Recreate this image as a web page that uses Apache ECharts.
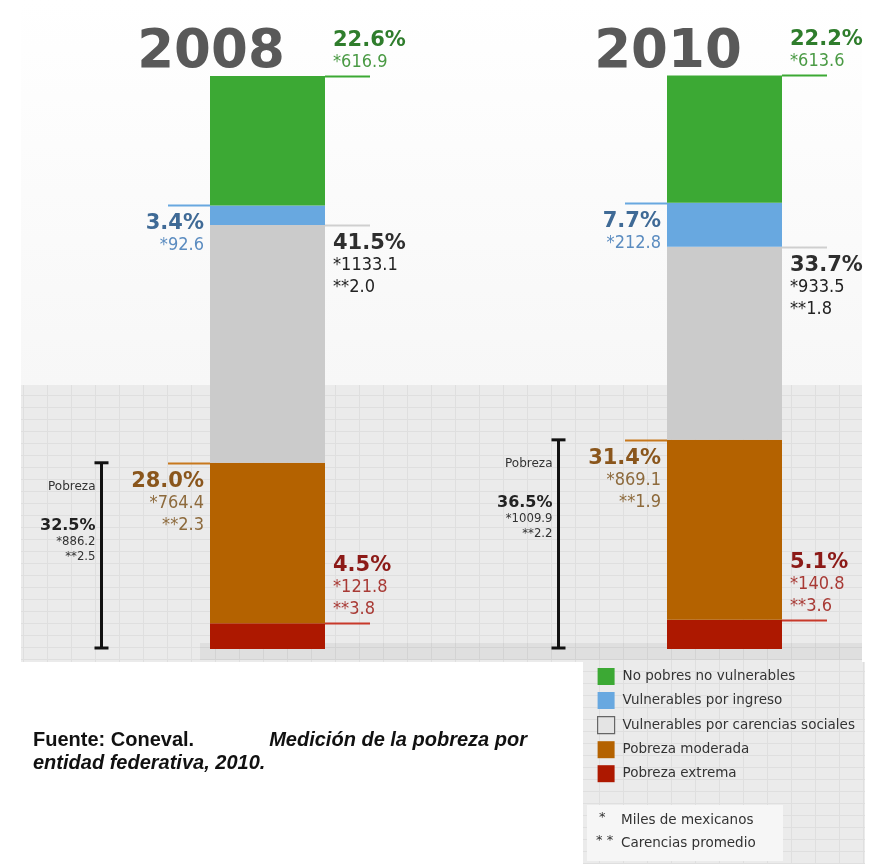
<!DOCTYPE html>
<html><head><meta charset="utf-8">
<script src="https://cdn.jsdelivr.net/npm/echarts@6/dist/echarts.min.js"></script>
<style>html,body{margin:0;padding:0;background:#fff}#c{width:875px;height:864px}</style>
</head><body><div id="c"></div>
<script>
// ---------- data ----------
const years = ['2008', '2010'];
const seriesNames = ['No pobres no vulnerables', 'Vulnerables por ingreso', 'Vulnerables por carencias sociales', 'Pobreza moderada', 'Pobreza extrema'];
const pctNoPobres = [22.6, 22.2];
const pctVulIngreso = [3.4, 7.7];
const pctVulCarencias = [41.5, 33.7];
const pctModerada = [28.0, 31.4];
const pctExtrema = [4.5, 5.1];
const milesNoPobres = [616.9, 613.6];
const milesVulIngreso = [92.6, 212.8];
const milesVulCarencias = [1133.1, 933.5];
const milesModerada = [764.4, 869.1];
const milesExtrema = [121.8, 140.8];
const carenciasVulCarencias = [2.0, 1.8];
const carenciasModerada = [2.3, 1.9];
const carenciasExtrema = [3.8, 3.6];
const pobrezaPct = [32.5, 36.5];
const pobrezaMiles = [886.2, 1009.9];
const pobrezaCarencias = [2.5, 2.2];
const sourceLine1a = 'Fuente: Coneval.';
const sourceLine1b = 'Medición de la pobreza por';
const sourceLine2 = 'entidad federativa, 2010.';

// ---------- styles ----------
const BAR_W = 115;
const colors = ['#3ca934', '#68a8e0', '#cbcbcb', '#b46200', '#ad1800'];
const lineColors = ['#3ca934', '#68a8e0', '#cfcfcf', '#c8781c', '#c8392a'];
const pctColors = ['#2f7d2c', '#3f6a96', '#2e2e2e', '#8a561c', '#8c1a17'];
const subColors = ['#4a9a44', '#5b8cc0', '#222222', '#8d6a3c', '#a83a35'];
const layout = [
  {side: 'right', pos: 'above'},
  {side: 'left', pos: 'below'},
  {side: 'right', pos: 'below'},
  {side: 'left', pos: 'below'},
  {side: 'right', pos: 'above'}
];
const PCT_FONT = 'bold 21px "DejaVu Sans"';
const SUB_FONT = '18px "DejaVu Sans Condensed", "DejaVu Sans"';

const pctBySeg = [pctNoPobres, pctVulIngreso, pctVulCarencias, pctModerada, pctExtrema];
const milesBySeg = [milesNoPobres, milesVulIngreso, milesVulCarencias, milesModerada, milesExtrema];
const carBySeg = [null, null, carenciasVulCarencias, carenciasModerada, carenciasExtrema];

const stackOrder = [4, 3, 2, 1, 0];
const barSeries = stackOrder.map(k => ({
  type: 'bar', name: seriesNames[k], stack: 'total', data: pctBySeg[k].slice(),
  barWidth: BAR_W, clip: false, itemStyle: {color: colors[k]}, silent: true
}));

const annotData = [];
years.forEach((y, i) => {
  let cum = 0;
  stackOrder.forEach(k => {
    cum += pctBySeg[k][i];
    annotData.push([i, cum, k]);
  });
});

function txt(text, x, y, font, fill, align) {
  return {type: 'text', silent: true, style: {text, x, y, font, fill, align, textAlign: align, verticalAlign: 'middle', textVerticalAlign: 'middle'}};
}

function renderAnnot(params, api) {
  const i = api.value(0), top = api.value(1), k = api.value(2);
  const p = api.coord([i, top]);
  const cx = p[0], L = Math.round(p[1]) + 0.5;
  const bl = cx - BAR_W / 2, br = cx + BAR_W / 2;
  const lay = layout[k];
  const children = [];
  if (lay.side === 'right') {
    children.push({type: 'line', shape: {x1: br, y1: L, x2: br + 45, y2: L}, style: {stroke: lineColors[k], lineWidth: 2}});
  } else {
    children.push({type: 'line', shape: {x1: bl - 42, y1: L, x2: bl, y2: L}, style: {stroke: lineColors[k], lineWidth: 2}});
  }
  const lines = [[pctBySeg[k][i].toFixed(1) + '%', PCT_FONT, pctColors[k]],
                 ['*' + milesBySeg[k][i].toFixed(1), SUB_FONT, subColors[k]]];
  if (carBySeg[k]) lines.push(['**' + carBySeg[k][i].toFixed(1), SUB_FONT, subColors[k]]);
  const tx = lay.side === 'right' ? br + 8 : bl - 6;
  const al = lay.side === 'right' ? 'left' : 'right';
  lines.forEach((ln, j) => {
    let ty;
    if (lay.pos === 'above') ty = L - 14 - 22 * (lines.length - 1 - j);
    else ty = L + 18 + 22 * j;
    children.push(txt(ln[0], tx, ty, ln[1], ln[2], al));
  });
  return {type: 'group', children};
}

function renderPobreza(params, api) {
  const i = api.value(0), top = api.value(1);
  const p = api.coord([i, top]);
  const b = api.coord([i, 0]);
  const x = Math.round(p[0] - 167) + 0.5;
  const yT = p[1], yB = b[1] - 1;
  const st = {stroke: '#111', lineWidth: 3};
  return {type: 'group', children: [
    {type: 'line', shape: {x1: x, y1: yT, x2: x, y2: yB}, style: st},
    {type: 'line', shape: {x1: x - 7, y1: yT, x2: x + 7, y2: yT}, style: st},
    {type: 'line', shape: {x1: x - 7, y1: yB, x2: x + 7, y2: yB}, style: st},
    txt('Pobreza', x - 6, yT + 24, '12px "DejaVu Sans"', '#333', 'right'),
    txt(pobrezaPct[i].toFixed(1) + '%', x - 6, yT + 63, 'bold 16px "DejaVu Sans"', '#222', 'right'),
    txt('*' + pobrezaMiles[i].toFixed(1), x - 6, yT + 79, '13px "DejaVu Sans Condensed", "DejaVu Sans"', '#333', 'right'),
    txt('**' + pobrezaCarencias[i].toFixed(1), x - 6, yT + 94, '13px "DejaVu Sans Condensed", "DejaVu Sans"', '#333', 'right')
  ]};
}

function renderTitle(params, api) {
  const i = api.value(0);
  const p = api.coord([i, api.value(1)]);
  const bl = p[0] - BAR_W / 2;
  return txt(years[i], bl + 1, p[1] - 23, 'bold 53px "DejaVu Sans"', '#595959', 'center');
}

function makePattern() {
  const c = document.createElement('canvas');
  c.width = 24; c.height = 12;
  const g = c.getContext('2d');
  g.fillStyle = '#ebebeb'; g.fillRect(0, 0, 24, 12);
  g.fillStyle = '#dfdfdf';
  g.fillRect(0, 11, 24, 1);
  g.fillRect(23, 0, 1, 12);
  return c;
}
const pat = {image: makePattern(), repeat: 'repeat'};

const chart = echarts.init(document.getElementById('c'), null, {renderer: 'canvas'});
chart.setOption({
  animation: false,
  backgroundColor: '#ffffff',
  grid: {left: 267.5, right: 150.5, top: 76, bottom: 215},
  xAxis: {type: 'category', data: years, boundaryGap: false, show: false},
  yAxis: {type: 'value', min: 0, max: 100, show: false},
  legend: {
    orient: 'vertical', left: 597, top: 668, padding: 0, itemGap: 7,
    itemWidth: 17, itemHeight: 17, icon: 'rect', selectedMode: false,
    textStyle: {fontFamily: 'DejaVu Sans', fontSize: 13.5, color: '#333', padding: [0, 0, 0, 3]},
    data: seriesNames.map((n, k) => k === 2
      ? {name: n, itemStyle: {color: '#e4e4e4', borderColor: '#666', borderWidth: 1.2}}
      : {name: n})
  },
  graphic: [
    {type: 'rect', z: -10, silent: true, shape: {x: 21, y: 0, width: 841, height: 385},
      style: {fill: new echarts.graphic.LinearGradient(0, 0, 0, 1, [{offset: 0, color: '#ffffff'}, {offset: 1, color: '#f7f7f7'}])}},
    {type: 'rect', z: -10, silent: true, shape: {x: 21, y: 385, width: 841, height: 277}, style: {fill: pat}},
    {type: 'rect', z: -9, silent: true, shape: {x: 200, y: 643, width: 662, height: 17}, style: {fill: 'rgba(0,0,0,0.05)'}},
    {type: 'rect', z: -10, silent: true, shape: {x: 583, y: 662, width: 282, height: 202}, style: {fill: pat}},
    {type: 'rect', z: -8, silent: true, shape: {x: 587, y: 805, width: 196, height: 56}, style: {fill: '#f6f6f6'}},
    {type: 'text', silent: true, style: {text: '*', x: 599, y: 818, font: '13px "DejaVu Sans"', fill: '#333', verticalAlign: 'middle'}},
    {type: 'text', silent: true, style: {text: 'Miles de mexicanos', x: 621, y: 820, font: '13.5px "DejaVu Sans"', fill: '#333', verticalAlign: 'middle'}},
    {type: 'text', silent: true, style: {text: '* *', x: 596, y: 841, font: '13px "DejaVu Sans"', fill: '#333', verticalAlign: 'middle'}},
    {type: 'text', silent: true, style: {text: 'Carencias promedio', x: 621, y: 843, font: '13.5px "DejaVu Sans"', fill: '#333', verticalAlign: 'middle'}},
    {type: 'text', silent: true, style: {text: sourceLine1a, x: 33, y: 740, font: 'bold 20px "Liberation Sans", Arial', fill: '#111', verticalAlign: 'middle'}},
    {type: 'text', silent: true, style: {text: sourceLine1b, x: 527, y: 740, align: 'right', font: 'italic bold 20px "Liberation Sans", Arial', fill: '#111', verticalAlign: 'middle'}},
    {type: 'text', silent: true, style: {text: sourceLine2, x: 33, y: 763, font: 'italic bold 20px "Liberation Sans", Arial', fill: '#111', verticalAlign: 'middle'}}
  ],
  series: barSeries.concat([
    {type: 'custom', name: 'annot', data: annotData, encode: {x: 0, y: 1}, renderItem: renderAnnot, clip: false, silent: true, z: 5},
    {type: 'custom', name: 'pobreza', data: years.map((y, i) => [i, pobrezaPct[i]]), encode: {x: 0, y: 1}, renderItem: renderPobreza, clip: false, silent: true, z: 5},
    {type: 'custom', name: 'titles', data: years.map((y, i) => [i, 100]), encode: {x: 0, y: 1}, renderItem: renderTitle, clip: false, silent: true, z: 5}
  ])
});
</script></body></html>
